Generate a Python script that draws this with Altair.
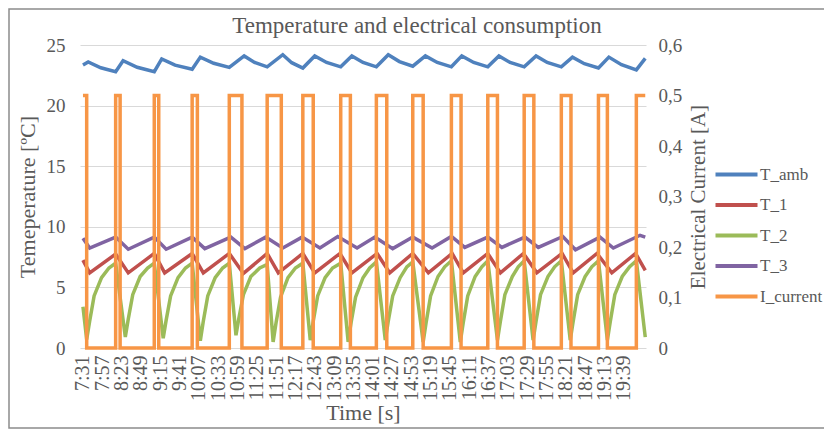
import altair as alt
import pandas as pd

FONT = "Liberation Serif"
GRAY = "#595959"

TITLE = "Temperature and electrical consumption"
SERIES = ["T_amb", "T_1", "T_2", "T_3", "I_current"]
COLORS = ["#4F81BD", "#C0504D", "#9BBB59", "#8064A2", "#F79646"]

X_LABELS = ["7:31", "7:57", "8:23", "8:49", "9:15", "9:41", "10:07", "10:33", "10:59",
            "11:25", "11:51", "12:17", "12:43", "13:09", "13:35", "14:01", "14:27", "14:53",
            "15:19", "15:45", "16:11", "16:37", "17:03", "17:29", "17:55", "18:21", "18:47",
            "19:13", "19:39"]

# time in seconds (m*60+s)
T_AMB_T = [451, 458, 475, 495, 505, 524, 547, 557, 575, 598, 609, 627, 648, 668, 682,
           699, 720, 732, 747, 763, 779, 798, 813, 828, 846, 862, 877, 895, 912, 928,
           947, 961, 977, 996, 1011, 1026, 1045, 1061, 1076, 1095, 1110, 1126, 1145, 1159,
           1176, 1196, 1208]
T_AMB_V = [23.35, 23.6, 23.12, 22.8, 23.7, 23.16, 22.8, 23.85, 23.34, 23.0, 24.0, 23.49,
           23.15, 24.1, 23.56, 23.2, 24.2, 23.54, 23.1, 24.1, 23.56, 23.2, 24.1, 23.56,
           23.2, 24.2, 23.63, 23.25, 24.1, 23.56, 23.2, 24.1, 23.56, 23.2, 24.1, 23.56,
           23.2, 24.1, 23.56, 23.2, 24.0, 23.46, 23.1, 24.0, 23.37, 22.95, 23.9]

T1_T = [451, 460, 495, 512, 547, 561, 598, 613, 648, 667, 699, 714, 747, 763, 797, 813,
        847, 864, 895, 916, 948, 963, 996, 1013, 1044, 1062, 1096, 1111, 1143, 1163, 1195, 1208]
T1_V = [7.25, 6.2, 7.75, 6.2, 7.8, 6.2, 7.8, 6.2, 7.8, 6.15, 7.8, 6.2, 7.8, 6.2, 7.8, 6.2,
        7.8, 6.2, 7.8, 6.2, 7.8, 6.2, 7.8, 6.2, 7.8, 6.2, 7.8, 6.2, 7.8, 6.2, 7.8, 6.4]

T2_T = [451, 456,
        460, 466, 476, 486, 495, 508,
        512, 518, 528, 538, 547, 559,
        563, 569, 579, 589, 598, 609,
        613, 619, 629, 639, 648, 657,
        661, 667, 677, 689, 699, 707,
        711, 717, 727, 737, 747, 757,
        761, 767, 777, 787, 798, 808,
        812, 818, 828, 837, 846, 858,
        862, 868, 878, 887, 895, 909,
        913, 919, 929, 938, 947, 959,
        963, 969, 979, 988, 996, 1009,
        1013, 1019, 1029, 1037, 1045, 1057,
        1061, 1067, 1077, 1086, 1095, 1107,
        1111, 1117, 1127, 1136, 1145, 1157,
        1161, 1167, 1177, 1187, 1196, 1208]
T2_V = [3.4, 0.7,
        2.2, 4.3, 5.8, 6.6, 7.0, 0.9,
        2.4, 4.4, 5.9, 6.6, 7.0, 0.8,
        2.3, 4.3, 5.8, 6.6, 7.0, 0.6,
        2.2, 4.3, 5.8, 6.6, 7.0, 1.05,
        2.5, 4.4, 5.9, 6.6, 6.9, 0.5,
        2.1, 4.2, 5.8, 6.6, 7.0, 0.65,
        2.2, 4.3, 5.8, 6.6, 7.0, 0.5,
        2.1, 4.2, 5.8, 6.6, 7.1, 0.65,
        2.2, 4.3, 5.8, 6.7, 7.1, 0.5,
        2.1, 4.3, 5.9, 6.7, 7.2, 0.5,
        2.1, 4.3, 5.9, 6.7, 7.2, 0.65,
        2.2, 4.4, 5.9, 6.7, 7.2, 0.65,
        2.2, 4.4, 5.9, 6.7, 7.2, 0.65,
        2.2, 4.4, 5.9, 6.7, 7.2, 0.65,
        2.2, 4.4, 5.9, 6.7, 7.2, 0.9]

T3_T = [451, 460, 495, 512, 547, 563, 598, 615, 650, 669, 697, 720, 746, 770, 794, 820,
        844, 868, 895, 921, 947, 965, 996, 1015, 1046, 1064, 1097, 1114, 1147, 1165, 1201, 1208]
T3_V = [9.05, 8.25, 9.15, 8.15, 9.15, 8.15, 9.15, 8.2, 9.15, 8.2, 9.15, 8.25, 9.15, 8.25,
        9.2, 8.25, 9.15, 8.2, 9.15, 8.25, 9.2, 8.3, 9.15, 8.3, 9.15, 8.3, 9.2, 8.1, 9.15,
        8.25, 9.3, 9.15]

CUR_T = [451, 456, 495, 501, 547, 553, 598, 605, 648, 665, 699, 718, 747, 761, 798, 811,
         846, 860, 895, 909, 947, 960, 996, 1009, 1045, 1058, 1095, 1108, 1145, 1157, 1196, 1208]
CUR_A = [0.5, 0, 0.5, 0, 0.5, 0, 0.5, 0, 0.5, 0, 0.5, 0, 0.5, 0, 0.5, 0,
         0.5, 0, 0.5, 0, 0.5, 0, 0.5, 0, 0.5, 0, 0.5, 0, 0.5, 0, 0.5, 0.5]

temps = pd.concat([
    pd.DataFrame({"t": T_AMB_T, "v": T_AMB_V, "series": "T_amb"}),
    pd.DataFrame({"t": T1_T, "v": T1_V, "series": "T_1"}),
    pd.DataFrame({"t": T2_T, "v": T2_V, "series": "T_2"}),
    pd.DataFrame({"t": T3_T, "v": T3_V, "series": "T_3"}),
], ignore_index=True)
current = pd.DataFrame({"t": CUR_T, "v": CUR_A, "series": "I_current"})

tick_vals = [int(s.split(":")[0]) * 60 + int(s.split(":")[1]) for s in X_LABELS]

legend = alt.Legend(
    title=None, orient="none", legendX=644, legendY=117,
    symbolType="M-2,0L2,0", symbolSize=441, symbolStrokeWidth=4,
    labelFontSize=17, labelFont=FONT, labelColor=GRAY, labelOffset=11,
    rowPadding=9.5,
)
color = alt.Color("series:N", scale=alt.Scale(domain=SERIES, range=COLORS), legend=legend)

x_enc = alt.X(
    "t:Q",
    scale=alt.Scale(domain=[447, 1209], nice=False, zero=False),
    axis=alt.Axis(
        values=tick_vals,
        labelExpr="floor(datum.value / 60) + ':' + (datum.value % 60 < 10 ? '0' : '') + (datum.value % 60)",
        labelAngle=-90, labelOverlap=False, title="Time [s]", grid=False, ticks=False,
        domain=False, labelFontSize=20, titleFontSize=22, labelPadding=7, titlePadding=2,
    ),
)

temp_layer = alt.Chart(temps).mark_line(strokeWidth=3.5).encode(
    x=x_enc,
    y=alt.Y("v:Q", scale=alt.Scale(domain=[0, 25], nice=False),
            axis=alt.Axis(values=[0, 5, 10, 15, 20, 25], title="Temeperature [ºC]",
                          grid=True, gridColor="#D9D9D9", gridWidth=1, domain=False,
                          ticks=False, labelPadding=15, labelFontSize=19,
                          titleFontSize=22, titlePadding=7)),
    color=color,
)

cur_layer = alt.Chart(current).mark_line(strokeWidth=3.5, interpolate="step-after").encode(
    x=x_enc,
    y=alt.Y("v:Q", scale=alt.Scale(domain=[0, 0.6], nice=False),
            axis=alt.Axis(orient="right", values=[0, 0.1, 0.2, 0.3, 0.4, 0.5, 0.6],
                          labelExpr="datum.value == 0 ? '0' : replace(format(datum.value, '.1f'), '.', ',')",
                          title="Electrical Current [A]", grid=False, domain=False,
                          ticks=False, labelPadding=12, labelFontSize=19,
                          titleFontSize=21, titleAngle=270, titlePadding=27)),
    color=color,
)

frame = alt.Chart(pd.DataFrame({"k": [0]})).mark_rect(
    fill="transparent", stroke="#8c8c8c", strokeWidth=1.5
).encode(
    x=alt.value(-71), x2=alt.value(760), y=alt.value(-36), y2=alt.value(383)
)

title_text = alt.Chart(pd.DataFrame({"title": [TITLE]})).mark_text(
    font=FONT, fontSize=23, color=GRAY, align="center", baseline="alphabetic"
).encode(
    text="title:N", x=alt.value(337), y=alt.value(-12)
)

chart = alt.layer(frame, title_text, temp_layer, cur_layer).resolve_scale(y="independent").properties(
    width=566, height=303,
    autosize=alt.AutoSizeParams(type="none"),
    padding={"left": 72, "top": 37, "right": 178, "bottom": 84},
).configure_axis(
    labelFont=FONT, titleFont=FONT, labelColor=GRAY, titleColor=GRAY, titleFontWeight="normal"
).configure_view(stroke=None)

chart.save("out.html", embed_options={"renderer": "svg", "actions": False})
